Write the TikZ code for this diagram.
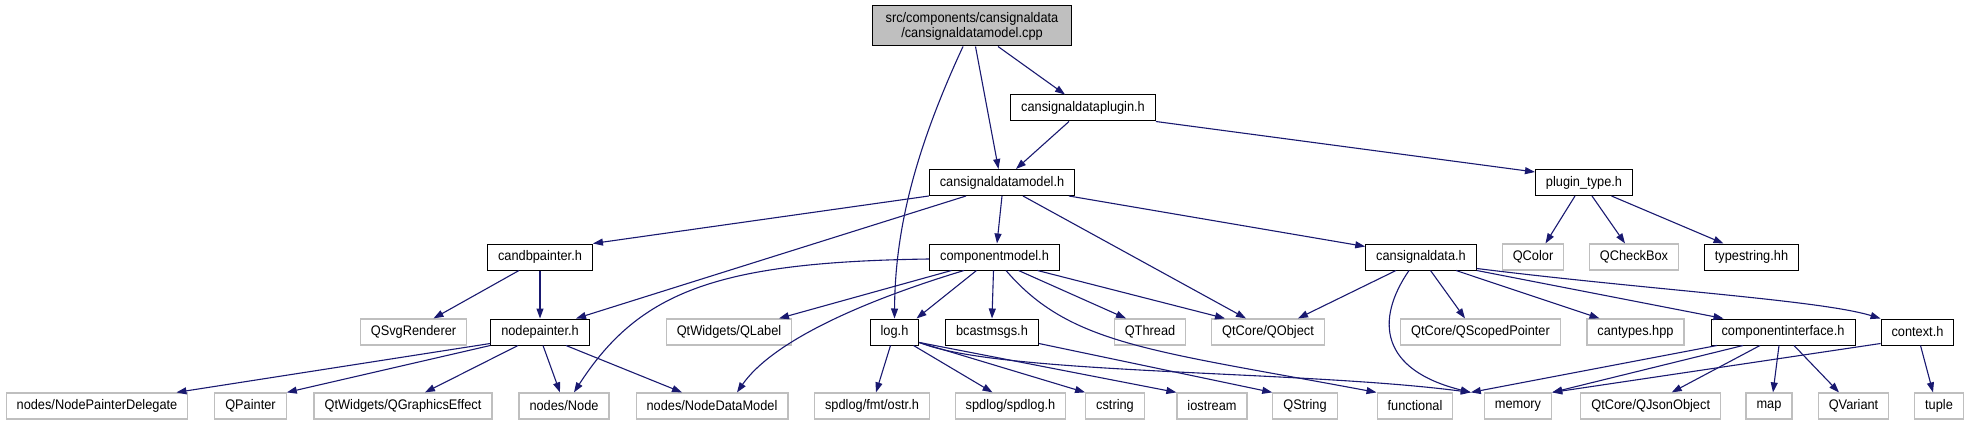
\documentclass[tikz,border=0pt]{standalone}
\usepackage{fontspec}
\setmainfont{Liberation Sans}[FakeStretch=0.92]
\usetikzlibrary{arrows.meta}
\definecolor{edgeblue}{RGB}{25,25,112}
\definecolor{grey75}{RGB}{191,191,191}
\tikzset{
  hdr/.style={draw=black,line width=1pt,fill=white,minimum height=26pt,inner xsep=10.5pt,inner ysep=0pt},
  sys/.style={hdr,draw=grey75,line width=1.2pt},
  dep/.style={->,draw=edgeblue,line width=1.1pt},
}
\begin{document}
\begin{tikzpicture}[x=1pt,y=-1pt,>={Triangle[length=10pt,width=7pt]},font=\fontsize{13.9}{15}\selectfont]
  \useasboundingbox (0,0) rectangle (1971,425);
  % top row
  \node[hdr,fill=grey75,minimum width=199pt,minimum height=40pt,align=center] (cpp) at (972,26) {src/components/cansignaldata\\/cansignaldatamodel.cpp};
  \node[hdr] (plugin) at (1083,108) {cansignaldataplugin.h};
  \node[hdr] (model) at (1002,182.5) {cansignaldatamodel.h};
  \node[hdr] (ptype) at (1584,182.5) {plugin\_type.h};
  % second row
  \node[hdr] (candb) at (540,257) {candbpainter.h};
  \node[hdr] (comp) at (994.5,257) {componentmodel.h};
  \node[hdr] (csd) at (1421,257) {cansignaldata.h};
  \node[sys] (qcolor) at (1533,257) {QColor};
  \node[sys] (qcheck) at (1634,257) {QCheckBox};
  \node[hdr] (tstr) at (1751.5,257) {typestring.hh};
  % third row
  \node[sys] (svg) at (413.5,332) {QSvgRenderer};
  \node[hdr] (npaint) at (540,332) {nodepainter.h};
  \node[sys] (qlabel) at (729,332) {QtWidgets/QLabel};
  \node[hdr] (log) at (894.5,332) {log.h};
  \node[hdr] (bcast) at (992,332) {bcastmsgs.h};
  \node[sys] (qthread) at (1150,332) {QThread};
  \node[sys] (qobject) at (1268,332) {QtCore/QObject};
  \node[sys] (qscoped) at (1480.5,332) {QtCore/QScopedPointer};
  \node[sys] (cantypes) at (1635.5,332) {cantypes.hpp};
  \node[hdr] (cif) at (1783,332) {componentinterface.h};
  \node[hdr] (ctx) at (1917.5,332) {context.h};
  % bottom row
  \node[sys] (delegate) at (97,406) {nodes/NodePainterDelegate};
  \node[sys] (qpainter) at (250.5,406) {QPainter};
  \node[sys] (qgfx) at (403,406) {QtWidgets/QGraphicsEffect};
  \node[sys] (node) at (564,406) {nodes/Node};
  \node[sys] (ndm) at (712,406) {nodes/NodeDataModel};
  \node[sys] (ostr) at (872,406) {spdlog/fmt/ostr.h};
  \node[sys] (spdlog) at (1010.5,406) {spdlog/spdlog.h};
  \node[sys] (cstring) at (1115,406) {cstring};
  \node[sys] (iostream) at (1212,406) {iostream};
  \node[sys] (qstring) at (1305,406) {QString};
  \node[sys] (functional) at (1415,406) {functional};
  \node[sys] (memory) at (1518,406) {memory};
  \node[sys] (qjson) at (1650.7,406) {QtCore/QJsonObject};
  \node[sys] (map) at (1769,406) {map};
  \node[sys] (qvariant) at (1853.5,406) {QVariant};
  \node[sys] (tuple) at (1939,406) {tuple};
  \coordinate (memin) at ([xshift=-13pt]memory.north west);
  % includes
  \draw[dep] ([xshift=-9pt]cpp.south) .. controls (915,150) and (895,230) .. (log.north);
  \draw[dep] ([xshift=3.5pt]cpp.south) -- ([xshift=-3.5pt]model.north);
  \draw[dep] ([xshift=26pt]cpp.south) -- ([xshift=-18pt]plugin.north);
  \draw[dep] ([xshift=-14pt]plugin.south) -- ([xshift=14pt]model.north);
  \draw[dep] (plugin.south east) -- ([yshift=-3pt]ptype.north west);
  \draw[dep] (model.south west) -- (candb.north east);
  \draw[dep] ([xshift=-36pt]model.south) -- ([xshift=36pt]npaint.north);
  \draw[dep] (model.south) -- ([xshift=2.5pt]comp.north);
  \draw[dep] ([xshift=21pt]model.south) -- ([xshift=-22pt]qobject.north);
  \draw[dep] ([xshift=67pt]model.south) -- ([yshift=-3pt]csd.north west);
  \draw[dep] ([xshift=-9pt]ptype.south) -- ([xshift=12.5pt]qcolor.north);
  \draw[dep] ([xshift=8pt]ptype.south) -- ([xshift=-9pt]qcheck.north);
  \draw[dep] ([xshift=27.5pt]ptype.south) -- ([xshift=-28pt]tstr.north);
  \draw[dep] ([xshift=-21pt]candb.south) -- ([xshift=20pt]svg.north);
  \draw[dep] (candb.south) -- (npaint.north);
  \draw[dep] ([yshift=-2pt]comp.west) .. controls (720,262) and (640,290) .. ([xshift=10pt]node.north);
  \draw[dep] ([xshift=-43pt]comp.south) -- ([xshift=50pt]qlabel.north);
  \draw[dep] ([xshift=-30.5pt]comp.south) .. controls (850,305) and (770,345) .. ([xshift=25pt]ndm.north);
  \draw[dep] ([xshift=-18pt]comp.south) -- ([xshift=22pt]log.north);
  \draw[dep] ([xshift=-1pt]comp.south) -- (bcast.north);
  \draw[dep] ([xshift=11.5pt]comp.south) .. controls (1070,345) and (1150,350) .. (functional.north west);
  \draw[dep] ([xshift=24pt]comp.south) -- ([xshift=-24pt]qthread.north);
  \draw[dep] ([xshift=43pt]comp.south) -- ([xshift=-43pt]qobject.north);
  \draw[dep] ([xshift=-25pt]csd.south) -- ([xshift=30pt]qobject.north);
  \draw[dep] ([xshift=-12pt]csd.south) .. controls (1375,320) and (1380,370) .. (memin);
  \draw[dep] ([xshift=9.5pt]csd.south) -- ([xshift=-15.5pt]qscoped.north);
  \draw[dep] ([xshift=35pt]csd.south) -- ([xshift=-36pt]cantypes.north);
  \draw[dep] (csd.south east) -- ([xshift=-59.5pt]cif.north);
  \draw[dep] ([yshift=2pt]csd.south east) .. controls (1650,290) and (1820,300) .. (ctx.north west);
  \draw[dep] ([xshift=-66pt]cif.south) -- (memin);
  \draw[dep] ([xshift=-40pt]cif.south) -- (memory.north east);
  \draw[dep] ([xshift=-23pt]cif.south) -- ([xshift=21pt]qjson.north);
  \draw[dep] ([xshift=-4pt]cif.south) -- ([xshift=4pt]map.north);
  \draw[dep] ([xshift=11pt]cif.south) -- ([xshift=-14.5pt]qvariant.north);
  \draw[dep] ([yshift=2pt]ctx.south west) -- (memory.north east);
  \draw[dep] ([xshift=3pt]ctx.south) -- ([xshift=-6pt]tuple.north);
  \draw[dep] ([xshift=-4pt]log.south) -- ([xshift=4pt]ostr.north);
  \draw[dep] ([xshift=19pt]log.south) -- ([xshift=-18pt]spdlog.north);
  \draw[dep] ([yshift=3pt]log.south east) -- (cstring.north west);
  \draw[dep] ([yshift=3pt]log.south east) -- (iostream.north west);
  \draw[dep] ([yshift=3pt]log.south east) .. controls (1000,375) and (1300,370) .. (memin);
  \draw[dep] ([yshift=2pt]bcast.south east) -- (qstring.north west);
  \draw[dep] ([yshift=2pt]npaint.south west) -- ([xshift=-12pt]delegate.north east);
  \draw[dep] (npaint.south west) -- (qpainter.north east);
  \draw[dep] ([xshift=-22pt]npaint.south) -- ([xshift=22pt]qgfx.north);
  \draw[dep] ([xshift=3pt]npaint.south) -- ([xshift=-4pt]node.north);
  \draw[dep] ([xshift=26pt]npaint.south) -- ([xshift=-30pt]ndm.north);
\end{tikzpicture}
\end{document}
